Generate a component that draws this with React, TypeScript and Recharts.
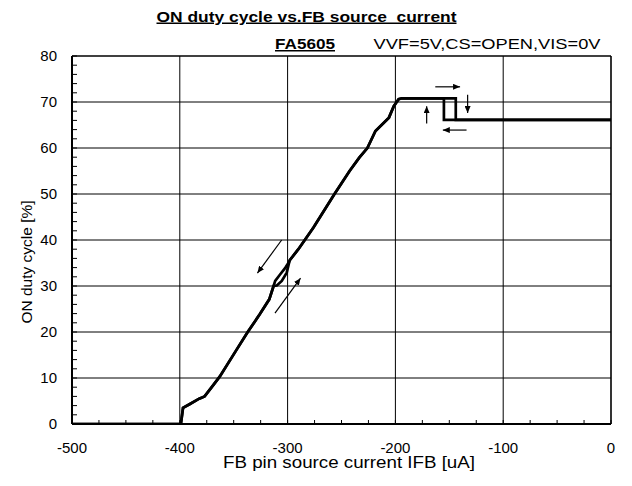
import { LineChart, Line, XAxis, YAxis, ReferenceLine } from "recharts";

// FB source current [uA] vs ON duty [%]
const LOW_PART = [
  { x: -500, y: 0 },
  { x: -399, y: 0 },
  { x: -397, y: 3.5 },
  { x: -391, y: 4.3 },
  { x: -382, y: 5.5 },
  { x: -377, y: 6 },
  { x: -369.5, y: 8.3 },
  { x: -363, y: 10.3 },
  { x: -348, y: 15.9 },
  { x: -337, y: 20 },
  { x: -326, y: 23.8 },
  { x: -317, y: 27.1 },
  { x: -313, y: 30 },
];
const LOOP_RISING = [
  { x: -310, y: 30.1 },
  { x: -305.4, y: 31.1 },
  { x: -300.8, y: 32.9 },
  { x: -299, y: 34.7 },
];
const LOOP_FALLING = [
  { x: -311.5, y: 31.1 },
  { x: -307, y: 32.5 },
  { x: -302, y: 34 },
  { x: -299, y: 35.1 },
];
const MID_PART = [
  { x: -298, y: 35.6 },
  { x: -290, y: 38 },
  { x: -276, y: 42.7 },
  { x: -256.5, y: 50 },
  { x: -242.5, y: 55 },
  { x: -233.5, y: 57.9 },
  { x: -226, y: 60 },
  { x: -218.5, y: 63.7 },
  { x: -206, y: 66.6 },
  { x: -201.5, y: 69.1 },
  { x: -197, y: 70.6 },
  { x: -194, y: 70.8 },
];
const TOP_RISING = [
  { x: -144, y: 70.8 },
  { x: -144, y: 66.1 },
  { x: 0, y: 66.1 },
];
const TOP_FALLING = [
  { x: 0, y: 66.1 },
  { x: -155, y: 66.1 },
  { x: -155, y: 70.8 },
];

const sweepUp = [...LOW_PART, ...LOOP_RISING, ...MID_PART, ...TOP_RISING];
const sweepDown = [
  ...TOP_FALLING,
  ...[...MID_PART].reverse(),
  ...[...LOOP_FALLING].reverse(),
  ...[...LOW_PART].reverse(),
];

// direction arrows
const ARROWS = [
  [{ x: -163, y: 73.3 }, { x: -140, y: 73.3 }],
  [{ x: -133, y: 71.6 }, { x: -133, y: 67.6 }],
  [{ x: -171, y: 65.3 }, { x: -171, y: 69.1 }],
  [{ x: -134, y: 63.9 }, { x: -156, y: 63.9 }],
  [{ x: -305.5, y: 40 }, { x: -328, y: 32.8 }],
  [{ x: -311.7, y: 24.1 }, { x: -288, y: 31.7 }],
];

const X_MAJOR = [-500, -400, -300, -200, -100, 0];
const Y_MAJOR = [0, 10, 20, 30, 40, 50, 60, 70, 80];
const X_MINOR = Array.from({ length: 21 }, (_, i) => -500 + i * 25);
const Y_MINOR = Array.from({ length: 41 }, (_, i) => i * 2);

const FONT = "'Liberation Sans', Arial, sans-serif";

export default function App() {
  return (
    <div style={{ position: "absolute", left: 0, top: 0, width: 632, height: 486, background: "#fff" }}>
      <LineChart width={632} height={486} margin={{ top: 56, right: 21, bottom: 0, left: 0 }}>
        <defs>
          <marker
            id="arrowHead"
            markerWidth={7}
            markerHeight={6}
            refX={7}
            refY={3}
            orient="auto"
            markerUnits="userSpaceOnUse"
          >
            <path d="M0,0 L7,3 L0,6 z" fill="#000" />
          </marker>
        </defs>
        <XAxis
          type="number"
          dataKey="x"
          domain={[-500, 0]}
          ticks={X_MINOR}
          interval={0}
          height={62}
          tickSize={-4}
          tickMargin={22}
          tickFormatter={(v) => (v % 100 === 0 ? String(v) : "")}
          tick={{ fill: "#000", fontSize: 15, fontFamily: FONT }}
          tickLine={{ stroke: "#000", strokeWidth: 1 }}
          axisLine={{ stroke: "#000", strokeWidth: 2 }}
          allowDataOverflow
        />
        <YAxis
          type="number"
          domain={[0, 80]}
          ticks={Y_MINOR}
          interval={0}
          width={72}
          tickSize={-5}
          tickMargin={20}
          tickFormatter={(v) => (v % 10 === 0 ? String(v) : "")}
          tick={{ fill: "#000", fontSize: 15, fontFamily: FONT }}
          tickLine={{ stroke: "#000", strokeWidth: 1 }}
          axisLine={{ stroke: "#000", strokeWidth: 2 }}
          allowDataOverflow
        />
        {X_MAJOR.map((v) => (
          <ReferenceLine key={"vx" + v} x={v} stroke="#000" strokeWidth={v === 0 ? 1.6 : 1} />
        ))}
        {Y_MAJOR.map((v) => (
          <ReferenceLine key={"hy" + v} y={v} stroke="#000" strokeWidth={v === 80 ? 1.6 : 1} />
        ))}
        <Line
          data={sweepUp}
          dataKey="y"
          stroke="#000"
          strokeWidth={2.7}
          dot={false}
          activeDot={false}
          isAnimationActive={false}
        />
        <Line
          data={sweepDown}
          dataKey="y"
          stroke="#000"
          strokeWidth={2.7}
          dot={false}
          activeDot={false}
          isAnimationActive={false}
        />
        {ARROWS.map((a, i) => (
          <Line
            key={"arrow" + i}
            data={a}
            dataKey="y"
            stroke="#000"
            strokeWidth={1.2}
            dot={false}
            activeDot={false}
            markerEnd="url(#arrowHead)"
            isAnimationActive={false}
          />
        ))}
        <text
          x={156.5}
          y={21.5}
          fontFamily={FONT}
          fontSize={15}
          fontWeight="bold"
          textLength={300}
          lengthAdjust="spacingAndGlyphs"
          textDecoration="underline"
          style={{ whiteSpace: "pre" }}
        >
          ON duty cycle vs.FB source  current
        </text>
        <text
          x={275}
          y={49}
          fontFamily={FONT}
          fontSize={15}
          fontWeight="bold"
          textLength={60}
          lengthAdjust="spacingAndGlyphs"
          textDecoration="underline"
        >
          FA5605
        </text>
        <text x={373.5} y={48.5} fontFamily={FONT} fontSize={15} textLength={227} lengthAdjust="spacingAndGlyphs">
          VVF=5V,CS=OPEN,VIS=0V
        </text>
        <text
          x={223}
          y={468}
          fontFamily={FONT}
          fontSize={16}
          textLength={252}
          lengthAdjust="spacingAndGlyphs"
        >
          FB pin source current IFB [uA]
        </text>
        <text
          x={0}
          y={0}
          transform="translate(26,262) rotate(-90)"
          fontFamily={FONT}
          fontSize={15.5}
          textAnchor="middle"
          dominantBaseline="central"
        >
          ON duty cycle [%]
        </text>
      </LineChart>
    </div>
  );
}
